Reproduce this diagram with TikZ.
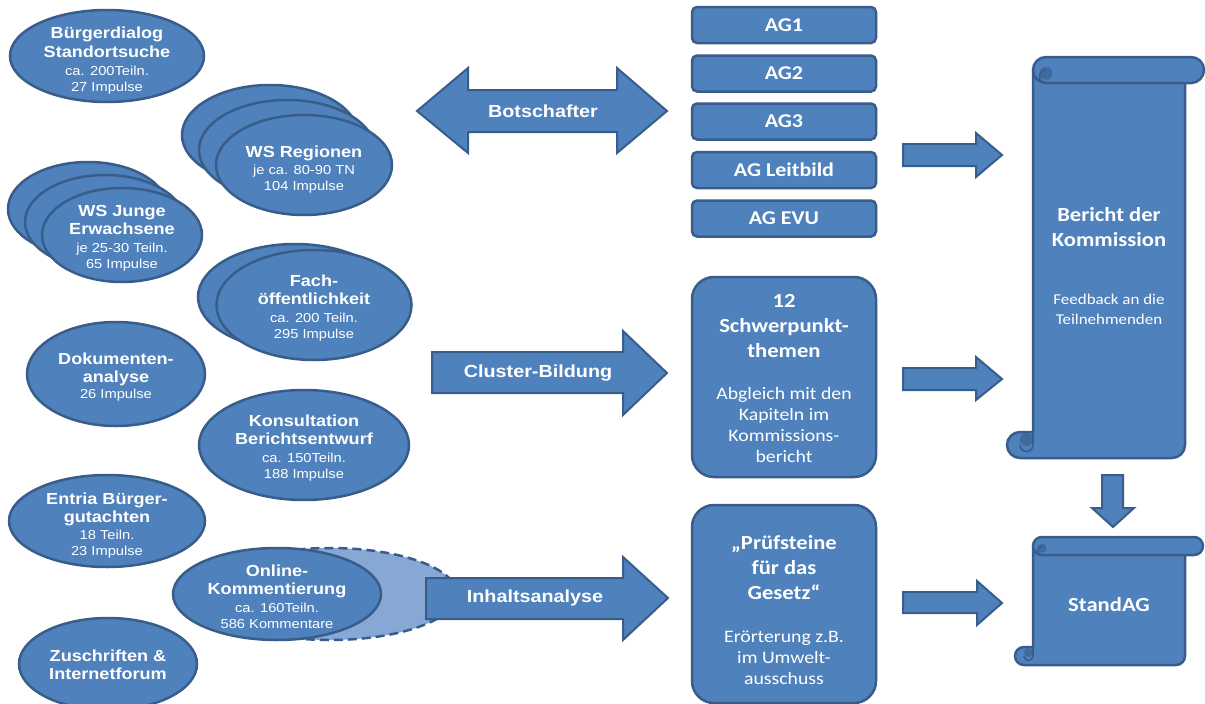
\documentclass[tikz,border=0pt]{standalone}
\usepackage{fontspec}
\setmainfont{Liberation Sans}[FakeStretch=1.13]
\newfontfamily\carl{Carlito}[FakeStretch=1.13]
\usetikzlibrary{shapes.geometric}

\definecolor{blu}{HTML}{4F81BD}
\definecolor{edge}{HTML}{385D8A}
\definecolor{pale}{HTML}{87A7D4}
\definecolor{curl}{HTML}{3F6A9E}

% bold heading lines inside the ellipses (Arial-like) and boxes (Calibri-like)
\newcommand\hd[1]{{\bfseries\fontsize{16}{16}\selectfont #1}}
\newcommand\cb[1]{{\bfseries\fontsize{20}{20}\selectfont #1}}

% vertical scroll: left, top, right, bottom, roll height, body right edge
\newcommand\drawscroll[6]{%
  \pgfmathsetmacro\sL{#1}\pgfmathsetmacro\sT{#2}%
  \pgfmathsetmacro\sR{#3}\pgfmathsetmacro\sB{#4}%
  \pgfmathsetmacro\sc{#5}\pgfmathsetmacro\sW{#6}%
  \pgfmathsetmacro\sh{\sc/2}%
  % sheet with bottom roll
  \draw[scrollpart] (\sL+\sc,\sT+\sh) -- (\sW,\sT+\sh) -- (\sW,\sB-\sh)
    arc[start angle=0,end angle=90,radius=\sh] -- (\sL+\sh,\sB)
    arc[start angle=90,end angle=270,radius=\sh] -- (\sL+\sc,\sB-\sc) -- cycle;
  % curl of the bottom roll
  \fill[curl] (\sL+\sh+\sh/2,\sB-\sc+\sh/2+1) circle[radius=\sh/2];
  \draw[edge,line width=1.6pt] (\sL+\sc,\sB-\sc) -- (\sL+\sc,\sB-\sh)
    arc[start angle=0,end angle=180,radius=\sh/2];
  % top roll
  \draw[scrollpart] (\sL+\sc+\sh,\sT) -- (\sR-\sh,\sT)
    arc[start angle=270,end angle=450,radius=\sh] -- (\sL+\sc+\sh,\sT+\sc)
    arc[start angle=90,end angle=270,radius=\sh] -- cycle;
  % curl of the top roll
  \fill[curl] (\sL+\sc+\sh,\sT+\sh+\sh/4) circle[radius=\sh/2];
  \draw[edge,line width=1.6pt] (\sL+\sc+\sh,\sT+\sc)
    arc[start angle=90,end angle=270,radius=\sh/2];
}

\tikzset{
  blob/.style={ellipse, draw=edge, fill=blu, line width=2.5pt, inner sep=0pt},
  ghost/.style={ellipse, draw=edge, fill=pale, line width=2.5pt, inner sep=0pt,
    dash pattern=on 9pt off 5pt},
  etext/.style={text=white, align=center, inner sep=0pt,
    font=\fontsize{13}{16}\selectfont},
  agbox/.style={rectangle, rounded corners=5pt, draw=edge, fill=blu, line width=2.5pt,
    minimum width=184pt, minimum height=36pt, text=white,
    font=\carl\bfseries\fontsize{19.5}{22}\selectfont},
  bigbox/.style={rectangle, rounded corners=22pt, draw=edge, fill=blu, line width=2.5pt,
    minimum width=184pt},
  btext/.style={text=white, align=center, inner sep=0pt,
    font=\carl\fontsize{17.5}{21}\selectfont},
  blockarrow/.style={draw=edge, fill=blu, line width=2pt, line join=miter},
  atext/.style={text=white, inner sep=0pt, font=\bfseries\fontsize{17.5}{20}\selectfont},
  scrollpart/.style={draw=edge, fill=blu, line width=2.5pt, line join=round},
}

\begin{document}
\begin{tikzpicture}[x=1pt,y=-1pt]
\useasboundingbox (0,0) rectangle (1205,704);

% ---- sources (left column) ----
\node[blob, minimum width=194pt, minimum height=92pt] (bd) at (107,56) {};
\node[etext] (bdt) at (107,61) {\hd{Bürgerdialog}\\[3pt]\hd{Standortsuche}\\[2pt]ca. 200Teiln.\\27 Impulse};

\node[blob, minimum width=176pt, minimum height=100pt] (wr3) at (270,135) {};
\node[blob, minimum width=176pt, minimum height=100pt] (wr2) at (287,150) {};
\node[blob, minimum width=176pt, minimum height=100pt] (wr1) at (304,165) {};
\node[etext] (wrt) at (304,170) {\hd{WS Regionen}\\[1pt]je ca. 80-90 TN\\104 Impulse};

\node[blob, minimum width=160pt, minimum height=94pt] (wj3) at (88,209) {};
\node[blob, minimum width=160pt, minimum height=94pt] (wj2) at (105,222) {};
\node[blob, minimum width=160pt, minimum height=94pt] (wj1) at (122,235) {};
\node[etext] (wjt) at (122,238) {\hd{WS Junge}\\[2pt]\hd{Erwachsene}\\[2pt]je 25-30 Teiln.\\65 Impulse};

\node[blob, minimum width=194pt, minimum height=106pt] (fo2) at (295,297) {};
\node[blob, minimum width=195pt, minimum height=110pt] (fo1) at (314,305) {};
\node[etext] (fot) at (314,308) {\hd{Fach-}\\[2pt]\hd{öffentlichkeit}\\[2pt]ca. 200 Teiln.\\295 Impulse};

\node[blob, minimum width=178pt, minimum height=104pt] (da) at (116,374) {};
\node[etext] (dat) at (116,377) {\hd{Dokumenten-}\\[2pt]\hd{analyse}\\26 Impulse};

\node[blob, minimum width=210pt, minimum height=110pt] (kb) at (304,445) {};
\node[etext] (kbt) at (304,448) {\hd{Konsultation}\\[2pt]\hd{Berichtsentwurf}\\[2pt]ca. 150Teiln.\\188 Impulse};

\node[blob, minimum width=196pt, minimum height=92pt] (eb) at (107,521) {};
\node[etext] (ebt) at (107,525.5) {\hd{Entria Bürger-}\\[2pt]\hd{gutachten}\\[1pt]18 Teiln.\\23 Impulse};

\node[ghost, minimum width=254pt, minimum height=92pt] (okg) at (330,594) {};
\node[blob, minimum width=208pt, minimum height=92pt] (ok) at (277,594) {};
\node[etext] (okt) at (277,597) {\hd{Online-}\\[2pt]\hd{Kommentierung}\\[2pt]ca. 160Teiln.\\586 Kommentare};

\node[blob, minimum width=178pt, minimum height=92pt] (zi) at (108,664) {};
\node[etext] (zit) at (108,665) {\hd{Zuschriften \&}\\[2pt]\hd{Internetforum}};

% ---- block arrows in the middle ----
\draw[blockarrow] (417,111) -- (468,68) -- (468,90) -- (617,90) -- (617,68) -- (667,111)
  -- (617,153) -- (617,132) -- (468,132) -- (468,153) -- cycle;
\node[atext] (bot) at (543,111) {Botschafter};

\draw[blockarrow] (432,352) -- (623,352) -- (623,331) -- (667,373) -- (623,415)
  -- (623,393) -- (432,393) -- cycle;
\node[atext] (clu) at (538,373) {Cluster-Bildung};

\draw[blockarrow] (426,578) -- (623,578) -- (623,557) -- (668,598) -- (623,640)
  -- (623,619) -- (426,619) -- cycle;
\node[atext] (inh) at (535,598) {Inhaltsanalyse};

% ---- working groups and topic boxes ----
\node[agbox] (ag1) at (784,25) {AG1};
\node[agbox] (ag2) at (784,73.5) {AG2};
\node[agbox] (ag3) at (784,121.5) {AG3};
\node[agbox] (agl) at (784,170) {AG Leitbild};
\node[agbox] (age) at (784,218.5) {AG EVU};

\node[bigbox, minimum height=200pt] (sp) at (784,377) {};
\node[btext] (spt) at (784,378.5) {\cb{12}\\[4pt]\cb{Schwerpunkt-}\\[4pt]\cb{themen}\\[21pt]Abgleich mit den\\Kapiteln im\\Kommissions-\\bericht};

\node[bigbox, minimum height=198pt] (pg) at (784,604) {};
\node[btext] (pgt) at (784,610) {\cb{„Prüfsteine}\\[4pt]\cb{für das}\\[4pt]\cb{Gesetz“}\\[22pt]Erörterung z.B.\\im Umwelt-\\ausschuss};

% ---- small arrows to the right column ----
\draw[blockarrow] (903,144) -- (976,144) -- (976,133) -- (1002,155) -- (976,177)
  -- (976,166) -- (903,166) -- cycle;
\draw[blockarrow] (903,368) -- (976,368) -- (976,357) -- (1002,379) -- (976,400)
  -- (976,390) -- (903,390) -- cycle;
\draw[blockarrow] (903,592) -- (977,592) -- (977,581) -- (1002,603) -- (977,625)
  -- (977,613) -- (903,613) -- cycle;

% ---- scrolls ----
\drawscroll{1007}{57}{1204}{458}{26}{1185}
\node[btext, font=\carl\fontsize{15}{20}\selectfont] (ber) at (1109,266)
  {\cb{Bericht der}\\[5pt]\cb{Kommission}\\[38pt]Feedback an die\\Teilnehmenden};

\draw[blockarrow] (1102,475) -- (1123,475) -- (1123,508) -- (1134,508) -- (1113,527)
  -- (1092,508) -- (1102,508) -- cycle;

\drawscroll{1015}{537}{1203}{665}{18}{1185}
\node[btext, font=\carl\bfseries\fontsize{20}{22}\selectfont] (sag) at (1109,605) {StandAG};
\end{tikzpicture}
\end{document}
